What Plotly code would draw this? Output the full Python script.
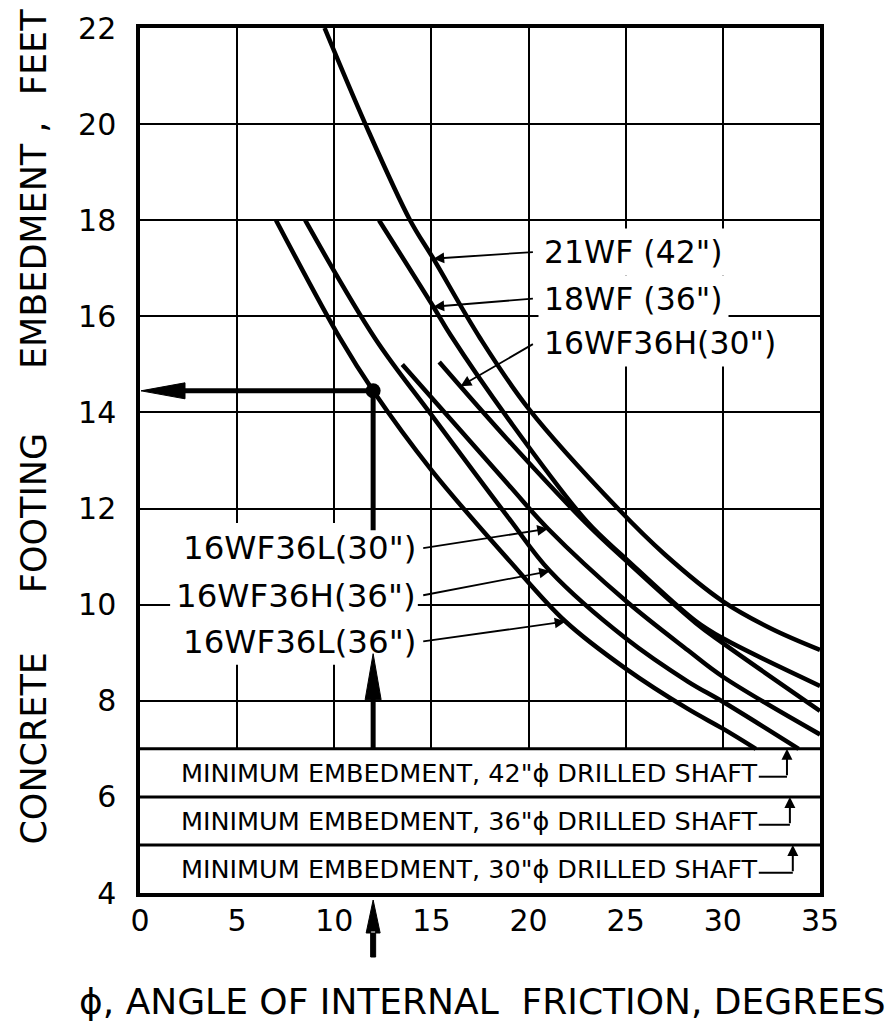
import numpy as np
import plotly.graph_objects as go

# ---------------- data ----------------
phi_21wf_42 = [9.5, 11.6, 13.9, 15.1, 17.5, 20.0, 24.6, 27.0, 30.0, 32.5, 35.0]
emb_21wf_42 = [22.0, 20.0, 18.0, 17.2, 15.55, 14.08, 12.0, 11.05, 10.07, 9.5, 9.06]

phi_18wf_36 = [12.3, 15.1, 16.0, 19.0, 23.0, 25.0, 28.6, 30.0, 35.0]
emb_18wf_36 = [18.0, 16.2, 15.6, 13.84, 11.73, 10.96, 9.66, 9.3, 8.31]

phi_16wf36h_30 = [15.4, 19.0, 23.0, 25.0, 28.6, 30.0, 35.0]
emb_16wf36h_30 = [15.05, 13.4, 11.68, 10.92, 9.62, 9.2, 7.79]

phi_16wf36l_30 = [13.5, 19.0, 21.0, 25.0, 28.2, 30.0, 35.0]
emb_16wf36l_30 = [15.0, 12.48, 11.58, 10.08, 9.05, 8.5, 7.3]

phi_16wf36h_36 = [8.5, 12.1, 15.0, 19.0, 21.1, 25.0, 28.2, 30.0, 33.9]
emb_16wf36h_36 = [18.0, 15.54, 13.95, 11.79, 10.7, 9.3, 8.4, 7.98, 7.0]

phi_16wf36l_36 = [7.0, 10.3, 12.0, 15.0, 19.0, 21.9, 25.0, 28.2, 30.0, 31.7]
emb_16wf36l_36 = [18.0, 15.54, 14.45, 12.8, 10.92, 9.65, 8.67, 7.83, 7.42, 7.0]

shaft_diameters = ['42"', '36"', '30"']
min_embedment = [7.0, 6.0, 5.0]

example_phi = 12.0
example_embed = 14.45

x_ticks = [0, 5, 10, 15, 20, 25, 30, 35]
y_ticks = [4, 6, 8, 10, 12, 14, 16, 18, 20, 22]

FONT = "DejaVu Sans"
BLACK = "black"

curves = [
    (phi_21wf_42, emb_21wf_42, '21WF (42")'),
    (phi_18wf_36, emb_18wf_36, '18WF (36")'),
    (phi_16wf36h_30, emb_16wf36h_30, '16WF36H(30")'),
    (phi_16wf36l_30, emb_16wf36l_30, '16WF36L(30")'),
    (phi_16wf36h_36, emb_16wf36h_36, '16WF36H(36")'),
    (phi_16wf36l_36, emb_16wf36l_36, '16WF36L(36")'),
]

fig = go.Figure()
for px_, py_, name in curves:
    fig.add_trace(go.Scatter(x=px_, y=py_, mode="lines", name=name,
                             line=dict(color=BLACK, width=4.5, shape="spline", smoothing=1.0),
                             hoverinfo="skip", showlegend=False))

# example reading lines
fig.add_trace(go.Scatter(x=[example_phi, 1.0], y=[example_embed, example_embed], mode="lines",
                         line=dict(color=BLACK, width=5), showlegend=False, hoverinfo="skip"))
fig.add_trace(go.Scatter(x=[example_phi, example_phi], y=[example_embed, 11.55], mode="lines",
                         line=dict(color=BLACK, width=5), showlegend=False, hoverinfo="skip"))
fig.add_trace(go.Scatter(x=[example_phi, example_phi], y=[max(min_embedment), 8.3], mode="lines",
                         line=dict(color=BLACK, width=5), showlegend=False, hoverinfo="skip"))
fig.add_trace(go.Scatter(x=[example_phi], y=[example_embed], mode="markers",
                         marker=dict(color=BLACK, size=15), showlegend=False, hoverinfo="skip"))

shapes = []
# white masks (between gridlines and traces)
shapes.append(dict(type="rect", xref="x", yref="y", x0=0, x1=35, y0=4, y1=max(min_embedment),
                   fillcolor="white", line=dict(width=0), layer="between"))
shapes.append(dict(type="rect", xref="x", yref="y", x0=1.55, x1=14.3, y0=8.75, y1=11.7,
                   fillcolor="white", line=dict(width=0), layer="between"))
# minimum embedment box lines
for d in min_embedment:
    shapes.append(dict(type="line", xref="x", yref="y", x0=0, x1=35, y0=d, y1=d,
                       line=dict(color=BLACK, width=3), layer="between"))
# arrowheads
shapes.append(dict(type="path", xref="x", yref="y", xsizemode="pixel", ysizemode="pixel",
                   xanchor=0, yanchor=example_embed, path="M 1,0 L 45,8 L 45,-8 Z",
                   fillcolor=BLACK, line=dict(color=BLACK, width=1), layer="above"))
shapes.append(dict(type="path", xref="x", yref="y", xsizemode="pixel", ysizemode="pixel",
                   xanchor=example_phi, yanchor=8.98, path="M 0,0 L -8,-46 L 8,-46 Z",
                   fillcolor=BLACK, line=dict(color=BLACK, width=1), layer="above"))
shapes.append(dict(type="path", xref="paper", yref="paper", xsizemode="pixel", ysizemode="pixel",
                   xanchor=example_phi / 35.0, yanchor=0,
                   path="M 0,-7 L -7,-40 L 7,-40 Z M -2.5,-38 L 2.5,-38 L 2.5,-64 L -2.5,-64 Z",
                   fillcolor=BLACK, line=dict(color=BLACK, width=1), layer="above"))

annotations = []
# minimum embedment labels with hook arrows
for dia, d in zip(shaft_diameters, min_embedment):
    ymid = d - 0.5
    annotations.append(dict(x=2.0, y=ymid, xref="x", yref="y", xanchor="left", yanchor="middle",
                            text=f"MINIMUM EMBEDMENT, {dia}\u03d5 DRILLED SHAFT", showarrow=False,
                            font=dict(family=FONT, size=25.5, color=BLACK)))
    hx = 33.3 + (7.0 - d) * 0.15
    shapes.append(dict(type="line", xref="x", yref="y", x0=31.85, x1=hx, y0=d - 0.58, y1=d - 0.58,
                       line=dict(color=BLACK, width=2), layer="above"))
    annotations.append(dict(x=hx, y=d, ax=hx, ay=d - 0.58, xref="x", yref="y", axref="x", ayref="y",
                            text="", showarrow=True, arrowhead=2, arrowsize=1.1, arrowwidth=2,
                            arrowcolor=BLACK, standoff=0))

# upper curve labels
upper = [('21WF (42")', 17.34, phi_21wf_42, emb_21wf_42, 15.1),
         ('18WF (36")', 16.37, phi_18wf_36, emb_18wf_36, 15.1),
         ('16WF36H(30")', 15.44, phi_16wf36h_30, emb_16wf36h_30, 16.5)]
for text, ly, cx, cy, tipx in upper:
    annotations.append(dict(x=20.5, y=ly, xref="x", yref="y", xanchor="left", yanchor="middle",
                            text=text, showarrow=False, bgcolor="white", borderpad=5,
                            font=dict(family=FONT, size=31.5, color=BLACK)))
    tipy = float(np.interp(tipx, cx, cy))
    annotations.append(dict(x=tipx, y=tipy, ax=20.3, ay=ly, xref="x", yref="y", axref="x", ayref="y",
                            text="", showarrow=True, arrowhead=2, arrowsize=1.2, arrowwidth=1.8,
                            arrowcolor=BLACK, standoff=0))

# lower curve labels
lower = [('16WF36L(30")', 11.17, phi_16wf36l_30, emb_16wf36l_30, 21.0),
         ('16WF36H(36")', 10.19, phi_16wf36h_36, emb_16wf36h_36, 21.1),
         ('16WF36L(36")', 9.23, phi_16wf36l_36, emb_16wf36l_36, 21.9)]
for text, ly, cx, cy, tipx in lower:
    annotations.append(dict(x=14.3, y=ly, xref="x", yref="y", xanchor="right", yanchor="middle",
                            text=text, showarrow=False,
                            font=dict(family=FONT, size=32.5, color=BLACK)))
    tipy = float(np.interp(tipx, cx, cy))
    annotations.append(dict(x=tipx, y=tipy, ax=14.5, ay=ly, xref="x", yref="y", axref="x", ayref="y",
                            text="", showarrow=True, arrowhead=2, arrowsize=1.2, arrowwidth=1.8,
                            arrowcolor=BLACK, standoff=0))

# axis titles
ytitle_words = [("CONCRETE", 0.168), ("FOOTING", 0.439), ("EMBEDMENT ,", 0.749), ("FEET", 0.972)]
for w, yp in ytitle_words:
    annotations.append(dict(x=-0.156, y=yp, xref="paper", yref="paper", xanchor="center",
                            yanchor="middle", text=w, textangle=-90, showarrow=False,
                            font=dict(family=FONT, size=35, color=BLACK)))
annotations.append(dict(x=0.503, y=-0.125, xref="paper", yref="paper", xanchor="center",
                        yanchor="middle", text="\u03d5, ANGLE OF INTERNAL\u00a0\u00a0FRICTION, DEGREES",
                        showarrow=False, font=dict(family=FONT, size=36, color=BLACK)))

fig.update_layout(
    width=896, height=1021,
    margin=dict(l=132, r=84, t=20, b=136, autoexpand=False),
    paper_bgcolor="white", plot_bgcolor="white",
    shapes=shapes, annotations=annotations,
    showlegend=False,
    xaxis=dict(range=[0, 35], tickvals=x_ticks, ticktext=[str(v) for v in x_ticks],
               showgrid=True, gridcolor=BLACK, gridwidth=2, zeroline=False, automargin=False,
               showline=True, linecolor=BLACK, linewidth=3.5, mirror=True, ticks="", ticklen=0,
               ticklabelstandoff=-2,
               tickfont=dict(family=FONT, size=30, color=BLACK)),
    yaxis=dict(range=[4, 22], tickvals=y_ticks, ticktext=[str(v) for v in y_ticks],
               showgrid=True, gridcolor=BLACK, gridwidth=2, zeroline=False, automargin=False,
               showline=True, linecolor=BLACK, linewidth=3.5, mirror=True, ticks="", ticklen=0,
               ticklabelstandoff=14,
               tickfont=dict(family=FONT, size=30, color=BLACK)),
)

fig.write_html("out.html")
